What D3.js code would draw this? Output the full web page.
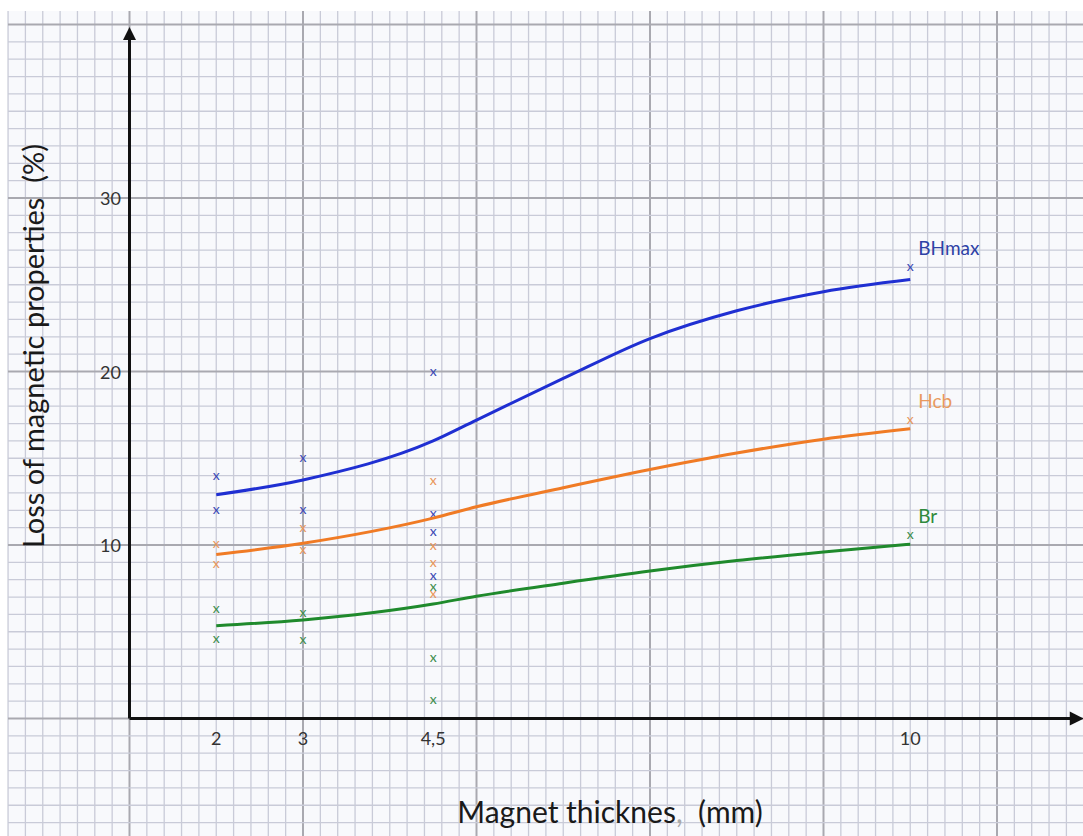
<!DOCTYPE html>
<html>
<head>
<meta charset="utf-8">
<script src="https://cdn.jsdelivr.net/npm/d3@7"></script>
<style>
  body { margin: 0; background: #fff; }
  text { font-family: Lato, "Open Sans", sans-serif; white-space: pre; }
</style>
</head>
<body>
<div id="chart"></div>
<script>
// x ticks (mm) and y ticks (%)
const xTicks = [2, 3, 4.5, 10];
const yTicks = [10, 20, 30];

const bhmaxX = [2, 2, 3, 3, 4.5, 4.5, 4.5, 4.5, 10];
const bhmaxY = [14, 12, 15, 12, 20, 11.8, 10.75, 8.2, 26];
const hcbX = [2, 2, 3, 3, 4.5, 4.5, 4.5, 4.5, 10];
const hcbY = [10.05, 8.9, 11, 9.7, 13.7, 9.95, 8.95, 7.2, 17.2];
const brX = [2, 2, 3, 3, 4.5, 4.5, 4.5, 10];
const brY = [6.3, 4.6, 6.1, 4.5, 7.6, 3.5, 1.05, 10.6];

// hand drawn trend curves
const trendX = [2, 3, 4.5, 5, 6, 7, 8, 9, 10];
const bhmaxTrend = [12.9, 13.75, 16.0, 17.2, 19.6, 21.9, 23.5, 24.6, 25.3];
const hcbTrend = [9.45, 10.1, 11.55, 12.2, 13.3, 14.35, 15.3, 16.1, 16.7];
const brTrend = [5.35, 5.68, 6.6, 7.05, 7.8, 8.5, 9.1, 9.6, 10.05];

const seriesNames = ["BHmax", "Hcb", "Br"];

const width = 1083, height = 836;

const series = [
    { name: seriesNames[0], xs: bhmaxX, ys: bhmaxY, trend: bhmaxTrend, line: "#1f2fd2", mark: "#3a47b4", label: "#2e42a6" },
    { name: seriesNames[1], xs: hcbX, ys: hcbY, trend: hcbTrend, line: "#f07b25", mark: "#e8955a", label: "#e99a5e" },
    { name: seriesNames[2], xs: brX, ys: brY, trend: brTrend, line: "#1f8a2c", mark: "#3d8c4c", label: "#2f8a3c" }
];

// scales: one grid square = 0.2 mm across, 1 % up
const x = d3.scaleLinear().domain([1, 10]).range([129.5, 910.25]);
const y = d3.scaleLinear().domain([0, 40]).range([718.5, 24.5]);

const svg = d3.select('#chart').append('svg')
    .attr('width', width)
    .attr('height', height);

// graph paper
const paper = svg.append('g').classed('paper', true);
paper.append('rect')
    .attr('x', 8).attr('y', 11)
    .attr('width', width - 8).attr('height', height - 11)
    .attr('fill', '#f8f9fc');

const vK = d3.range(-7, 55);
const hK = d3.range(-6, 41);

paper.selectAll('line.v')
    .data(vK)
    .enter()
    .append('line')
    .attr('x1', k => x(1 + k * 0.2))
    .attr('x2', k => x(1 + k * 0.2))
    .attr('y1', 11)
    .attr('y2', height)
    .attr('stroke', k => k % 10 === 0 ? '#a9a9b0' : '#c9cbd8')
    .attr('stroke-width', k => k % 10 === 0 ? 2 : 1.3);

paper.selectAll('line.h')
    .data(hK)
    .enter()
    .append('line')
    .attr('y1', k => y(k))
    .attr('y2', k => y(k))
    .attr('x1', 8)
    .attr('x2', width)
    .attr('stroke', k => k % 10 === 0 ? '#a9a9b0' : '#c9cbd8')
    .attr('stroke-width', k => k % 10 === 0 ? 2 : 1.3);

// axes with arrows
const axisG = svg.append('g').classed('axes', true);
axisG.append('line')
    .attr('x1', x(1)).attr('x2', x(11.9))
    .attr('y1', y(0)).attr('y2', y(0))
    .attr('stroke', '#111').attr('stroke-width', 3);
axisG.append('line')
    .attr('x1', x(1)).attr('x2', x(1))
    .attr('y1', y(0)).attr('y2', y(39.5))
    .attr('stroke', '#111').attr('stroke-width', 3);

const xTip = x(12), yTip = y(39.85);
axisG.append('path')
    .attr('d', `M${xTip},${y(0)} L${xTip - 14},${y(0) - 7} L${xTip - 14},${y(0) + 7} Z`)
    .attr('fill', '#111');
axisG.append('path')
    .attr('d', `M${x(1)},${yTip} L${x(1) - 6.5},${yTip + 13} L${x(1) + 6.5},${yTip + 13} Z`)
    .attr('fill', '#111');

// tick labels
axisG.selectAll('text.xt')
    .data(xTicks)
    .enter()
    .append('text')
    .attr('x', d => x(d))
    .attr('y', 745)
    .attr('text-anchor', 'middle')
    .style('font-size', '18px')
    .style('fill', '#333')
    .text(d => String(d).replace('.', ','));

axisG.selectAll('text.yt')
    .data(yTicks)
    .enter()
    .append('text')
    .attr('x', 121)
    .attr('y', d => y(d) + 7)
    .attr('text-anchor', 'end')
    .style('font-size', '18px')
    .style('fill', '#333')
    .text(d => d);

// axis titles
const xTitle = svg.append('text')
    .attr('x', 610)
    .attr('y', 823)
    .attr('text-anchor', 'middle')
    .style('font-size', '30px')
    .style('fill', '#1a1a1a');
xTitle.append('tspan').text('Magnet thicknes');
xTitle.append('tspan').style('fill', '#aaa').text(',');
xTitle.append('tspan').text('  (mm)');

svg.append('text')
    .attr('transform', 'translate(44, 346) rotate(-90)')
    .attr('text-anchor', 'middle')
    .style('font-size', '29px')
    .style('fill', '#1a1a1a')
    .text('Loss of magnetic properties  (%)');

// trend curves
const line = d3.line()
    .x((d, i) => x(trendX[i]))
    .y(d => y(d))
    .curve(d3.curveMonotoneX);

const plotG = svg.append('g').classed('series', true);

series.forEach(s => {
    plotG.append('path')
        .datum(s.trend)
        .attr('d', line)
        .attr('fill', 'none')
        .attr('stroke', s.line)
        .attr('stroke-width', 3);

    plotG.selectAll('text.m-' + s.name)
        .data(s.ys)
        .enter()
        .append('text')
        .attr('x', (d, i) => x(s.xs[i]))
        .attr('y', d => y(d) + 4)
        .attr('text-anchor', 'middle')
        .style('font-size', '14px')
        .style('fill', s.mark)
        .text('x');

    // name next to the last mark
    const last = s.ys.length - 1;
    plotG.append('text')
        .attr('x', x(s.xs[last]) + 8)
        .attr('y', y(s.ys[last]) - 12)
        .style('font-size', '19px')
        .style('fill', s.label)
        .text(s.name);
});
</script>
</body>
</html>
